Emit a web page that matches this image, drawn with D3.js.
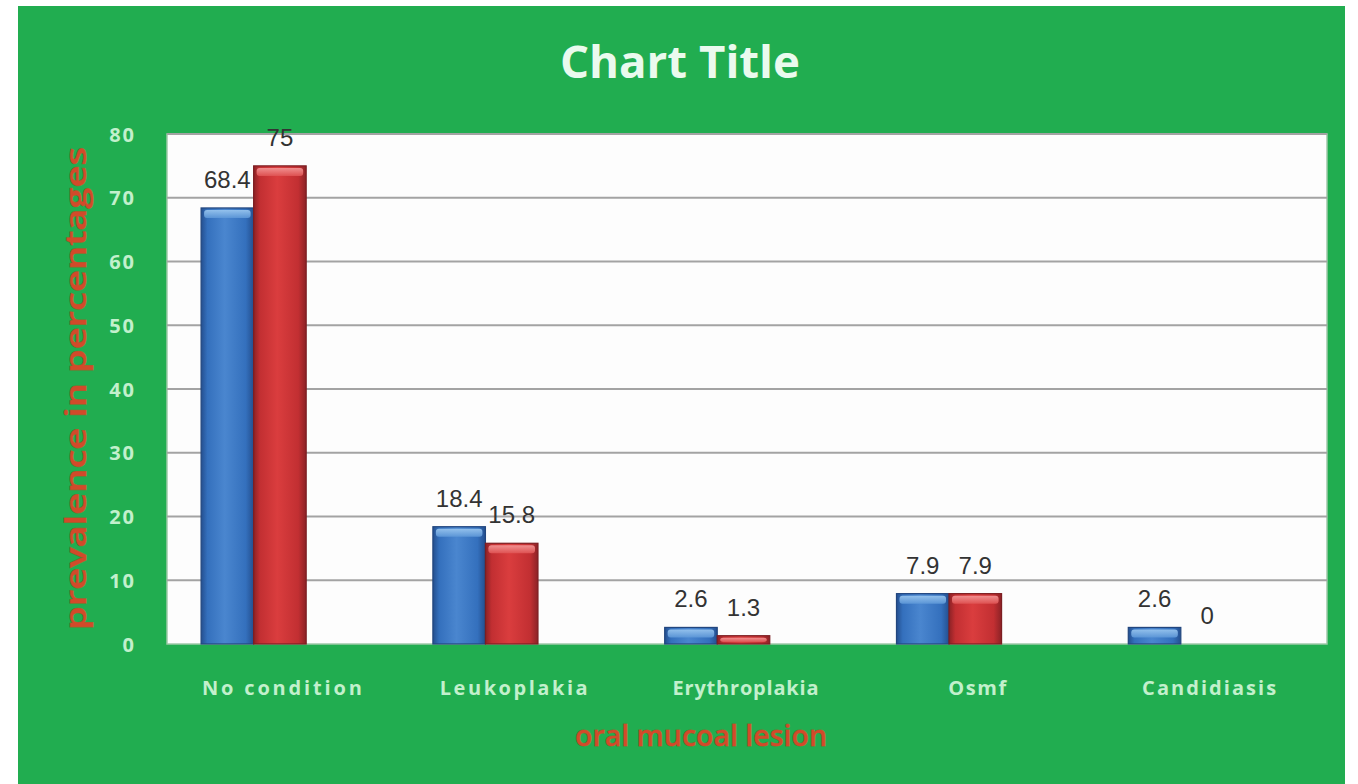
<!DOCTYPE html>
<html>
<head>
<meta charset="utf-8">
<script src="https://cdn.jsdelivr.net/npm/d3@7"></script>
<style>
  html, body { margin: 0; padding: 0; background: #ffffff; }
  svg { display: block; }
</style>
</head>
<body>
<svg id="chart" width="1358" height="784"></svg>
<script>
// Prevalence of oral mucosal lesions, two groups side by side
const categories = ["No condition", "Leukoplakia", "Erythroplakia", "Osmf", "Candidiasis"];
const seriesKeys = ["groupA", "groupB", "groupC"];   // third slot is kept empty in the cluster
const groupA = [68.4, 18.4, 2.6, 7.9, 2.6];
const groupB = [75, 15.8, 1.3, 7.9, 0];
const yTicks = [0, 10, 20, 30, 40, 50, 60, 70, 80];

const svg = d3.select("#chart");

const frame = { x: 18, y: 6, w: 1327, h: 778 };
const plot = { left: 167, right: 1327, top: 134, bottom: 644 };

const green = "#21ad50";
const paleText = "#c2f0cc";

// Gradients for the bevelled bars
const defs = svg.append("defs");
function barGradient(id, edge, mid, light) {
  const g = defs.append("linearGradient").attr("id", id)
    .attr("x1", "0").attr("x2", "1").attr("y1", "0").attr("y2", "0");
  g.append("stop").attr("offset", "0%").attr("stop-color", edge);
  g.append("stop").attr("offset", "12%").attr("stop-color", mid);
  g.append("stop").attr("offset", "45%").attr("stop-color", light);
  g.append("stop").attr("offset", "85%").attr("stop-color", mid);
  g.append("stop").attr("offset", "100%").attr("stop-color", edge);
}
barGradient("gradA", "#244f8f", "#3470bd", "#4a86cf");
barGradient("gradB", "#8c2226", "#c22f32", "#da3d3e");
function capGradient(id, c1, c2) {
  const g = defs.append("linearGradient").attr("id", id)
    .attr("x1", "0").attr("x2", "0").attr("y1", "0").attr("y2", "1");
  g.append("stop").attr("offset", "0%").attr("stop-color", c1);
  g.append("stop").attr("offset", "100%").attr("stop-color", c2);
}
capGradient("capA", "#9cc8f0", "#5e98d8");
capGradient("capB", "#f59a9a", "#e05555");

// Background panel
svg.append("rect").attr("x", frame.x).attr("y", frame.y)
  .attr("width", frame.w).attr("height", frame.h).attr("fill", green);

// Plot area
svg.append("rect").attr("x", plot.left).attr("y", plot.top)
  .attr("width", plot.right - plot.left).attr("height", plot.bottom - plot.top)
  .attr("fill", "#fdfdfd").attr("stroke", "#9fc9a8").attr("stroke-width", 1.5);

// Scales
const y = d3.scaleLinear().domain([0, 80]).range([plot.bottom, plot.top]);
const x0 = d3.scaleBand().domain(categories).range([plot.left - 3, plot.right - 4])
  .paddingInner(0.32).paddingOuter(0.16);
const x1 = d3.scaleBand().domain(seriesKeys).range([0, x0.bandwidth()]);

// Horizontal gridlines
svg.append("g").selectAll("line").data(yTicks.filter(t => t > 0)).join("line")
  .attr("x1", plot.left).attr("x2", plot.right)
  .attr("y1", d => y(d)).attr("y2", d => y(d))
  .attr("stroke", "#a3a3a3").attr("stroke-width", 2);

// Y axis tick labels
const yAxis = d3.axisLeft(y).tickValues(yTicks).tickSize(0).tickPadding(0).tickFormat(d3.format("d"));
const yg = svg.append("g").attr("transform", `translate(${plot.left - 31},0)`).call(yAxis);
yg.select(".domain").remove();
yg.selectAll("text")
  .attr("fill", paleText)
  .attr("font-family", "'Open Sans', sans-serif")
  .attr("font-weight", "bold")
  .attr("font-size", 20)
  .attr("letter-spacing", "2px")
  .attr("dy", "0.35em");

// Bars
const rows = categories.map((c, i) => ({ cat: c, values: [
  { key: "groupA", v: groupA[i] },
  { key: "groupB", v: groupB[i] }
]}));

const groups = svg.append("g").selectAll("g").data(rows).join("g")
  .attr("transform", d => `translate(${x0(d.cat)},0)`);

const bars = groups.selectAll("g.bar").data(d => d.values.filter(e => e.v > 0)).join("g").attr("class", "bar");
bars.append("rect")
  .attr("x", d => x1(d.key)).attr("width", x1.bandwidth())
  .attr("y", d => y(d.v)).attr("height", d => y(0) - y(d.v))
  .attr("fill", d => d.key === "groupA" ? "url(#gradA)" : "url(#gradB)")
  .attr("stroke", d => d.key === "groupA" ? "#22467e" : "#7c1e22")
  .attr("stroke-width", 1.2);
bars.append("rect")
  .attr("x", d => x1(d.key) + 3).attr("width", x1.bandwidth() - 6)
  .attr("y", d => y(d.v) + 2)
  .attr("height", d => Math.min(8, Math.max(0, y(0) - y(d.v) - 4)))
  .attr("rx", 3)
  .attr("fill", d => d.key === "groupA" ? "url(#capA)" : "url(#capB)")
  .attr("opacity", 0.9);

// Value labels
groups.selectAll("text.val").data(d => d.values).join("text").attr("class", "val")
  .attr("x", d => x1(d.key) + x1.bandwidth() / 2)
  .attr("y", d => y(d.v) - 20)
  .attr("text-anchor", "middle")
  .attr("font-family", "'Liberation Sans', Arial, sans-serif")
  .attr("font-size", 24)
  .attr("fill", "#333333")
  .text(d => d3.format("~g")(d.v));

// Category labels
const catWidths = { "No condition": 160, "Leukoplakia": 148, "Erythroplakia": 146, "Osmf": 58, "Candidiasis": 134 };
svg.append("g").selectAll("text").data(categories).join("text")
  .attr("x", d => x0(d) + x0.bandwidth() / 2 + 2)
  .attr("y", 695)
  .attr("text-anchor", "middle")
  .attr("font-family", "'Open Sans', sans-serif")
  .attr("font-weight", "bold")
  .attr("font-size", 20)
  .attr("fill", paleText)
  .attr("textLength", d => catWidths[d])
  .attr("lengthAdjust", "spacing")
  .text(d => d);

// Chart title
svg.append("text")
  .attr("x", 680).attr("y", 78)
  .attr("text-anchor", "middle")
  .attr("font-family", "'Open Sans', sans-serif")
  .attr("font-weight", "bold")
  .attr("font-size", 44)
  .attr("fill", "#eafaee")
  .attr("textLength", 240)
  .attr("lengthAdjust", "spacingAndGlyphs")
  .text("Chart Title");

// Axis titles
const axisTitleStyle = sel => sel
  .attr("font-family", "'Open Sans', sans-serif")
  .attr("font-weight", 600)
  .attr("font-size", 28)
  .attr("fill", "#d24a2a")
  .attr("stroke", "#8d6a2c")
  .attr("stroke-width", 0.8)
  .attr("paint-order", "stroke")
  .attr("text-anchor", "middle");

svg.append("text")
  .attr("transform", `translate(86,${(147 + 630) / 2}) rotate(-90)`)
  .call(axisTitleStyle)
  .attr("textLength", 483)
  .attr("lengthAdjust", "spacingAndGlyphs")
  .text("prevalence in percentages");

svg.append("text")
  .attr("x", 701).attr("y", 746)
  .call(axisTitleStyle)
  .attr("textLength", 252)
  .attr("lengthAdjust", "spacingAndGlyphs")
  .text("oral mucoal lesion");
</script>
</body>
</html>
